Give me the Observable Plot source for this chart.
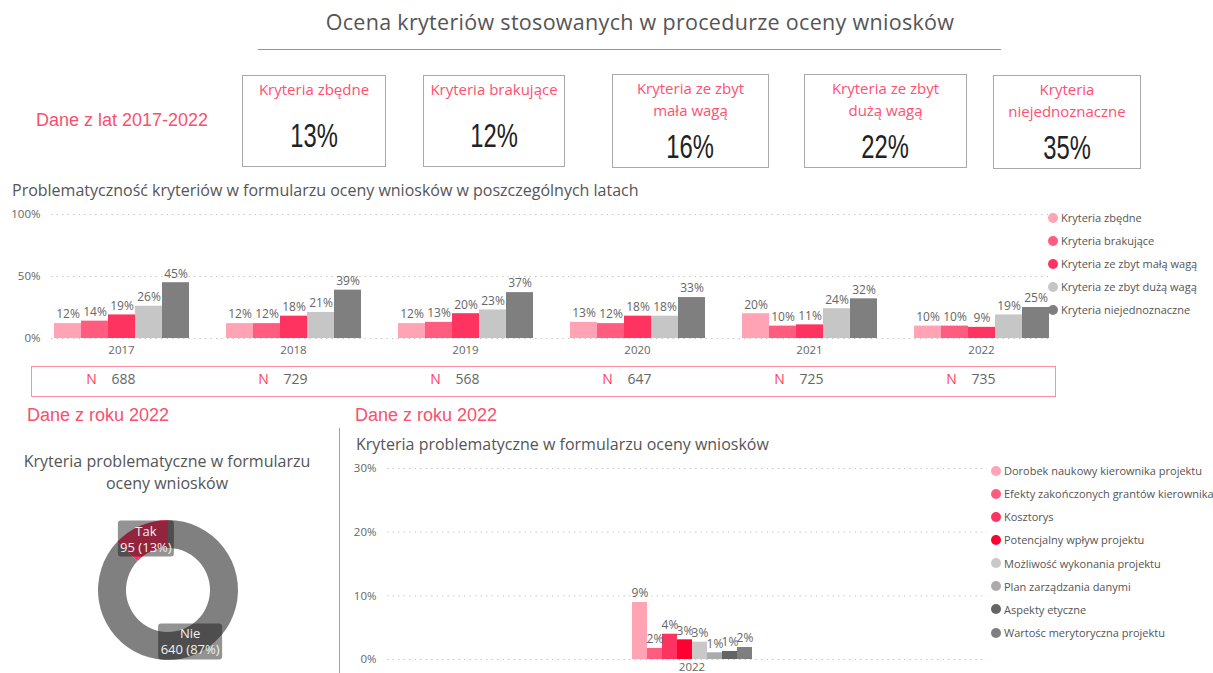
<!DOCTYPE html>
<html><head><meta charset="utf-8">
<script src="https://cdn.jsdelivr.net/npm/d3@7"></script>
<script src="https://cdn.jsdelivr.net/npm/@observablehq/plot@0.6"></script>
<style>
body{margin:0;background:#fff;}
#root{position:relative;width:1213px;height:673px;overflow:hidden;font-family:"Open Sans",sans-serif;color:#555;}
.abs{position:absolute;}
.pink{color:#f9506e;font-family:"Liberation Sans",Arial,sans-serif;font-size:18px;}
.kpi{position:absolute;border:1.5px solid #a9a9a9;box-sizing:border-box;display:flex;flex-direction:column;align-items:center;}
.kpi .t{color:#ff4f72;font-size:15px;line-height:22px;text-align:center;white-space:pre-line;margin-top:2px;}
.kpi .v{flex:1;display:flex;align-items:center;padding-top:6px;font-family:"Liberation Sans",sans-serif;font-size:33px;color:#222;transform:scaleX(0.72);}
.legend{position:absolute;font-size:11px;color:#555;}
.legend .row{display:flex;align-items:center;height:23px;white-space:nowrap;}
.legend .dot{width:10px;height:10px;border-radius:50%;margin-right:3px;flex:none;}
svg{overflow:visible;}
</style></head><body><div id="root"></div>
<script>
// ---------- data ----------
const pageTitle = "Ocena kryteriów stosowanych w procedurze oceny wniosków";
const kpiTitles = ["Kryteria zbędne", "Kryteria brakujące", "Kryteria ze zbyt\nmała wagą", "Kryteria ze zbyt\ndużą wagą", "Kryteria\nniejednoznaczne"];
const kpiValues = [13, 12, 16, 22, 35];

const years = ["2017", "2018", "2019", "2020", "2021", "2022"];
const criteria = ["Kryteria zbędne", "Kryteria brakujące", "Kryteria ze zbyt małą wagą", "Kryteria ze zbyt dużą wagą", "Kryteria niejednoznaczne"];
const zbedne = [12, 12, 12, 13, 20, 10];
const brakujace = [14, 12, 13, 12, 10, 10];
const malaWaga = [19, 18, 20, 18, 11, 9];
const duzaWaga = [26, 21, 23, 18, 24, 19];
const niejednoznaczne = [45, 39, 37, 33, 32, 25];
const nApplications = [688, 729, 568, 647, 725, 735];
const yTicks1 = [0, 50, 100];

const donutLabels = ["Nie", "Tak"];
const donutCounts = [640, 95];
const donutShares = [87, 13];

const year2022 = ["2022"];
const criteria2022 = ["Dorobek naukowy kierownika projektu", "Efekty zakończonych grantów kierownika", "Kosztorys", "Potencjalny wpływ projektu", "Możliwość wykonania projektu", "Plan zarządzania danymi", "Aspekty etyczne", "Wartośc merytoryczna projektu"];
const shares2022 = [8.95, 1.73, 3.97, 3.09, 2.72, 1.05, 1.26, 1.88];
const yTicks3 = [0, 10, 20, 30];

// ---------- styles ----------
const criteriaColors = ["#ffa3b5", "#ff5c80", "#ff3360", "#c6c6c6", "#7f7f7f"];
const donutColors = ["#808080", "#ff3360"];
const colors2022 = ["#ffa3b5", "#ff5c80", "#ff3360", "#ff0030", "#c9c9c9", "#ababab", "#646464", "#7f7f7f"];
const FONT = "'Open Sans', sans-serif";
const root = document.getElementById("root");
function el(tag, cls, css, text) {
  const e = document.createElement(tag);
  if (cls) e.className = cls;
  if (css) e.style.cssText = css;
  if (text != null) e.textContent = text;
  root.appendChild(e);
  return e;
}

// header
el("div", "abs", "left:0;width:1280px;top:7px;text-align:center;font-size:21.5px;color:#555;letter-spacing:0.3px;", pageTitle);
el("div", "abs", "left:258px;width:743px;top:49px;height:0;border-top:1.5px solid #f06a82;");
el("div", "abs pink", "left:36px;top:110px;", "Dane z lat 2017-2022");

const kpiBoxes = [[242, 75, 144, 92], [423, 75, 142, 92], [612, 74, 157, 94], [804, 74, 163, 94], [993, 75, 148, 94]];
kpiTitles.forEach((t, i) => {
  const [l, tp, w, h] = kpiBoxes[i];
  const b = el("div", "kpi", `left:${l}px;top:${tp}px;width:${w}px;height:${h}px;`);
  const tt = document.createElement("div"); tt.className = "t"; tt.textContent = t; b.appendChild(tt);
  const vv = document.createElement("div"); vv.className = "v"; vv.textContent = kpiValues[i] + "%"; b.appendChild(vv);
});

// ---------- chart 1 ----------
el("div", "abs", "left:12px;top:179px;font-size:16px;color:#555;white-space:nowrap;", "Problematyczność kryteriów w formularzu oceny wniosków w poszczególnych latach");
const series1 = [zbedne, brakujace, malaWaga, duzaWaga, niejednoznaczne];
const rows1 = years.flatMap((y, i) => criteria.map((c, j) => ({year: y, crit: c, value: series1[j][i]})));
const nRows = years.map((y, i) => ({year: y, n: nApplications[i]}));

el("div", "abs", "left:31px;top:366px;width:1025px;height:31px;box-sizing:border-box;border:1.5px solid #ff8ea5;");

const dims1 = {width: 1052, height: 200, marginLeft: 51, marginRight: 1, marginTop: 14, marginBottom: 62};
const y1 = {domain: [0, 100], ticks: yTicks1, tickFormat: d => d + "%", tickSize: 0, tickPadding: 11, label: null};
const st = {fontFamily: FONT, fontSize: "11.5px", color: "#666", background: "transparent", overflow: "visible"};

// grid + y axis layer (full width, not faceted)
const grid1 = Plot.plot({
  ...dims1, style: st, y: y1,
  marks: [Plot.ruleY(yTicks1, {stroke: "#c8c8c8", strokeDasharray: "1.5,4"})]
});
const chart1 = Plot.plot({
  ...dims1, style: st,
  fx: {domain: years, paddingInner: 0.2, paddingOuter: 0, label: null, axis: "bottom", tickSize: 0, tickPadding: 7},
  x: {domain: criteria, padding: 0, axis: null},
  y: {...y1, axis: null},
  color: {domain: criteria, range: criteriaColors},
  marks: [
    Plot.barY(rows1, {fx: "year", x: "crit", y: "value", fill: "crit"}),
    Plot.text(rows1, {fx: "year", x: "crit", y: "value", text: d => d.value + "%", dy: -9, fill: "#666", fontSize: 12}),
    Plot.text(nRows, {fx: "year", frameAnchor: "bottom", text: () => "N", dy: 45, dx: -30, fill: "#ff3d64", fontSize: 14}),
    Plot.text(nRows, {fx: "year", frameAnchor: "bottom", text: d => String(d.n), dy: 45, dx: -10, textAnchor: "start", fill: "#666", fontSize: 14})
  ]
});
el("div", "abs", "left:0;top:200px;").appendChild(grid1);
el("div", "abs", "left:0;top:200px;").appendChild(chart1);

const lg1 = el("div", "legend", "left:1048px;top:206px;");
criteria.forEach((c, i) => {
  const r = document.createElement("div"); r.className = "row";
  r.innerHTML = `<span class="dot" style="background:${criteriaColors[i]}"></span>`;
  r.appendChild(document.createTextNode(c));
  lg1.appendChild(r);
});

// ---------- donut ----------
el("div", "abs pink", "left:27px;top:405px;", "Dane z roku 2022");
el("div", "abs", "left:0;width:334px;top:450px;text-align:center;font-size:16px;line-height:22px;color:#555;white-space:pre-line;", "Kryteria problematyczne w formularzu\noceny wniosków");
el("div", "abs", "left:339px;top:428px;width:0;height:250px;border-left:1.5px solid #f27d92;");

const donutData = donutLabels.map((l, i) => ({label: l, count: donutCounts[i], share: donutShares[i]}));
const donut = Plot.plot({
  width: 340, height: 173, margin: 0,
  style: {fontFamily: FONT, background: "transparent", overflow: "visible"},
  marks: [
    (index, scales, values, dims) => {
      const cx = 168, cy = 90;
      const g = d3.create("svg:g").attr("transform", `translate(${cx},${cy})`);
      const arcs = d3.pie().sort(null).value(d => d.count)(donutData);
      const arc = d3.arc().innerRadius(42).outerRadius(70);
      g.selectAll("path").data(arcs).join("path").attr("d", arc).attr("fill", (d, i) => donutColors[i]);
      const lab = g.selectAll("g.l").data(arcs).join("g").attr("transform", d => `translate(${arc.centroid(d)})`);
      lab.append("rect").attr("x", d => d.data.label === "Tak" ? -28 : -32).attr("y", -18)
        .attr("width", d => d.data.label === "Tak" ? 56 : 64).attr("height", 36).attr("rx", 3)
        .attr("fill", "rgba(20,20,20,0.46)");
      lab.append("text").attr("text-anchor", "middle").attr("y", -3).attr("fill", "#f2f2f2").attr("font-size", 13).text(d => d.data.label);
      lab.append("text").attr("text-anchor", "middle").attr("y", 13).attr("fill", "#f2f2f2").attr("font-size", 13).text(d => `${d.data.count} (${d.data.share}%)`);
      return g.node();
    }
  ]
});
el("div", "abs", "left:0;top:500px;").appendChild(donut);

// ---------- chart 3 ----------
el("div", "abs pink", "left:355px;top:405px;", "Dane z roku 2022");
el("div", "abs", "left:356px;top:433px;font-size:16px;color:#555;white-space:nowrap;", "Kryteria problematyczne w formularzu oceny wniosków");
const rows3 = criteria2022.map((c, i) => ({year: "2022", crit: c, value: shares2022[i]}));
const dims3 = {width: 648, height: 218, marginLeft: 47, marginRight: 1, marginTop: 13, marginBottom: 14};
const y3 = {domain: [0, 30], ticks: yTicks3, tickFormat: d => d + "%", tickSize: 0, tickPadding: 11, label: null};
const grid3 = Plot.plot({
  ...dims3, style: st, y: y3,
  marks: [Plot.ruleY(yTicks3, {stroke: "#c8c8c8", strokeDasharray: "1.5,4"})]
});
const chart3 = Plot.plot({
  ...dims3, style: st,
  fx: {domain: year2022, paddingInner: 0.65, paddingOuter: 0.65, align: 0.51, label: null, axis: "bottom", tickSize: 0, tickPadding: 3},
  x: {domain: criteria2022, padding: 0, axis: null},
  y: {...y3, axis: null},
  color: {domain: criteria2022, range: colors2022},
  marks: [
    Plot.barY(rows3, {fx: "year", x: "crit", y: "value", fill: "crit"}),
    Plot.text(rows3, {fx: "year", x: "crit", y: "value", text: d => Math.round(d.value) + "%", dy: -9, fill: "#666", fontSize: 12})
  ]
});
el("div", "abs", "left:340px;top:455px;").appendChild(grid3);
el("div", "abs", "left:340px;top:455px;").appendChild(chart3);

const lg3 = el("div", "legend", "left:991px;top:459px;");
criteria2022.forEach((c, i) => {
  const r = document.createElement("div"); r.className = "row"; r.style.height = "23.15px";
  r.innerHTML = `<span class="dot" style="background:${colors2022[i]}"></span>`;
  r.appendChild(document.createTextNode(c));
  lg3.appendChild(r);
});
</script>
</body></html>
